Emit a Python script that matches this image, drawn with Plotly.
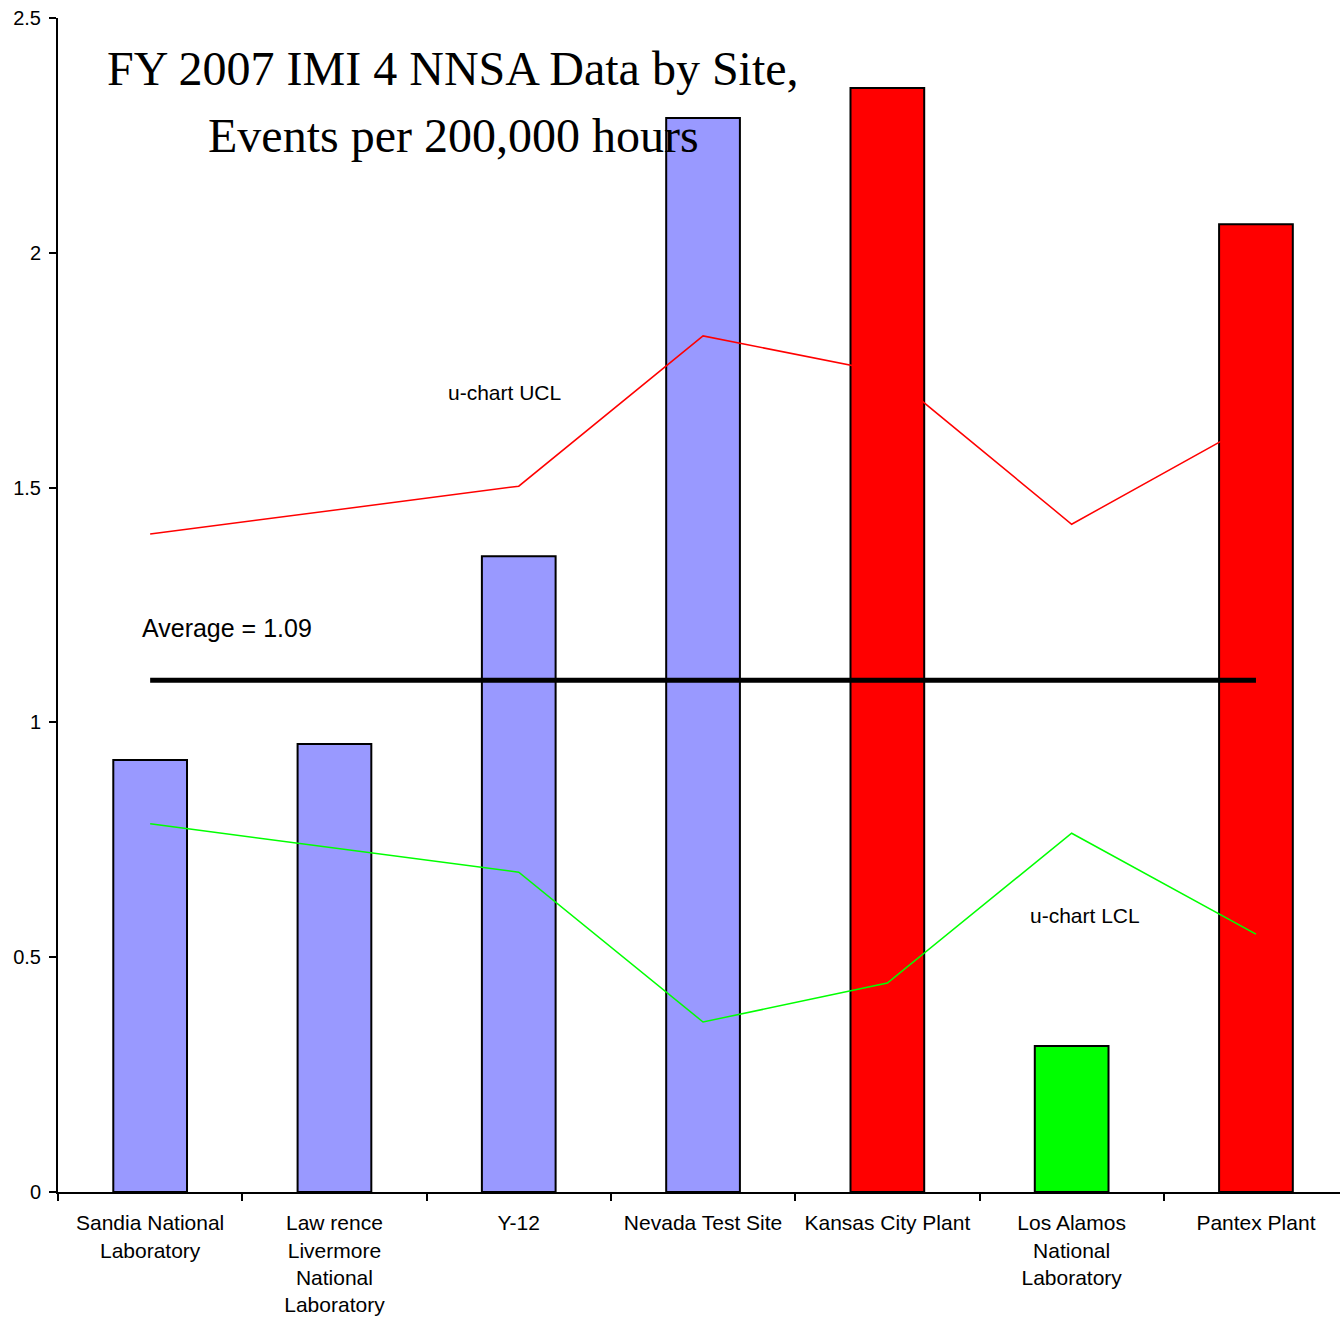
import plotly.graph_objects as go

sites = ["Sandia National<br>Laboratory", "Law rence<br>Livermore<br>National<br>Laboratory", "Y-12",
         "Nevada Test Site", "Kansas City Plant", "Los Alamos<br>National<br>Laboratory", "Pantex Plant"]
rates = [0.92, 0.954, 1.354, 2.287, 2.351, 0.311, 2.061]
bar_colors = ["#9999FF", "#9999FF", "#9999FF", "#9999FF", "#FF0000", "#00FF00", "#FF0000"]
ucl = [1.401, 1.452, 1.503, 1.823, 1.745, 1.422, 1.64]
lcl = [0.784, 0.733, 0.681, 0.362, 0.445, 0.764, 0.549]
average = 1.09

L, T, W, H = 58, 18, 1340, 1327
PW, PH = W - L, 1192 - T
CAT_PX = 184.3  # pixel width of one category in the reference


def px(x):
    return (x - L) / PW


def py(y):
    return (1192 - y) / PH


fig = go.Figure()
fig.add_trace(go.Bar(x=sites, y=rates, marker=dict(color=bar_colors, line=dict(color="black", width=2)),
                     width=0.40, showlegend=False, hoverinfo="skip"))
fig.add_trace(go.Scatter(x=sites, y=ucl, mode="lines", line=dict(color="#FF0000", width=1.5), showlegend=False))
fig.add_trace(go.Scatter(x=sites, y=lcl, mode="lines", line=dict(color="#00FF00", width=1.5), showlegend=False))
fig.add_trace(go.Scatter(x=sites, y=[average] * len(sites), mode="lines", line=dict(color="black", width=5),
                         showlegend=False))

font_sans = "Liberation Sans, Arial, sans-serif"
font_serif = "Liberation Serif, Times New Roman, serif"

anns = [
    dict(text="FY 2007 IMI 4 NNSA Data by Site,", x=px(453), y=py(68), size=48, family=font_serif),
    dict(text="Events per 200,000 hours", x=px(453), y=py(135), size=48, family=font_serif),
    dict(text="u-chart UCL", x=px(505), y=py(393), size=21, family=font_sans),
    dict(text="u-chart LCL", x=px(1085), y=py(915), size=21, family=font_sans),
    dict(text="Average = 1.09", x=px(227), y=py(628), size=25, family=font_sans),
]
for a in anns:
    fig.add_annotation(text=a["text"], x=a["x"], y=a["y"], xref="paper", yref="paper",
                       xanchor="center", yanchor="middle", showarrow=False,
                       font=dict(family=a["family"], size=a["size"], color="black"))

fig.update_layout(
    width=W, height=H,
    margin=dict(l=L, r=0, t=T, b=H - 1192, autoexpand=False),
    plot_bgcolor="white", paper_bgcolor="white",
    font=dict(family=font_sans, color="black"),
    xaxis=dict(range=[-0.5, -0.5 + PW / CAT_PX], showline=True, linecolor="black", linewidth=2,
               ticks="outside", tickson="boundaries", ticklen=7, tickwidth=2, tickcolor="black",
               showgrid=False, tickfont=dict(size=21, family=font_sans), tickangle=0, automargin=False,
               ticklabelstandoff=11),
    yaxis=dict(range=[0, 2.5], showline=True, linecolor="black", linewidth=2, ticks="outside",
               ticklen=7, tickwidth=2, tickcolor="black", showgrid=False, zeroline=False,
               tickvals=[0, 0.5, 1, 1.5, 2, 2.5], ticktext=["0", "0.5", "1", "1.5", "2", "2.5"],
               tickfont=dict(size=20, family=font_sans), automargin=False, ticklabelstandoff=4),
)

fig.write_html("out.html", config={"displayModeBar": False},
               post_script="document.body.style.margin='0';document.body.style.overflow='hidden';")
